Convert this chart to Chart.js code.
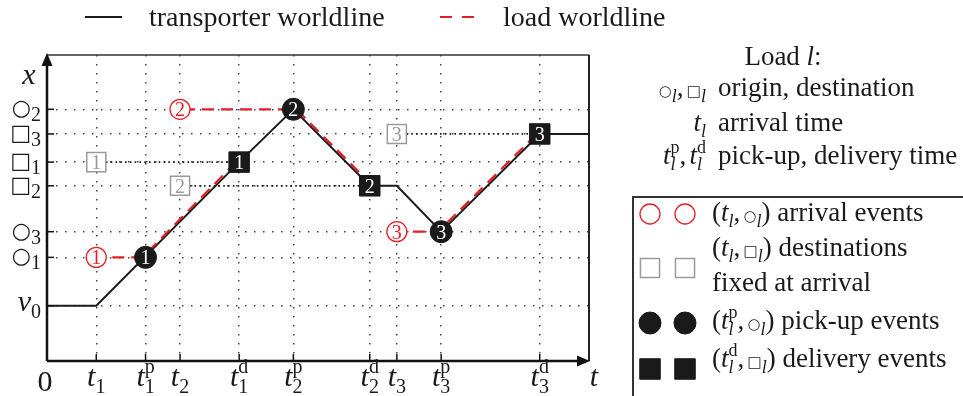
<!DOCTYPE html>
<html>
<head>
<meta charset="utf-8">
<script src="https://cdn.jsdelivr.net/npm/chart.js@4"></script>
<style>
  html, body { margin: 0; padding: 0; background: #fff; }
  #chart { display: block; }
</style>
</head>
<body>
<canvas id="chart" width="963" height="396"></canvas>
<script>
// axis ticks
const tickTimes = [1, 2, 2.7, 3.9, 5, 6.55, 7.1, 8, 10];
const timeLabels = ['$t_1$', '$t_1^p$', '$t_2$', '$t_1^d$', '$t_2^p$', '$t_2^d$', '$t_3$', '$t_3^p$', '$t_3^d$'];
const tickPlaces = [1.12, 2.1, 2.62, 3.55, 4.03, 4.6, 5.1];
const placeLabels = ['$v_0$', '$○_1$', '$○_3$', '$□_2$', '$□_1$', '$□_3$', '$○_2$'];
const timeAxisName = '$t$';
const placeAxisName = '$x$';
const originName = '0';

// transporter worldline
const transporterT = [0, 1, 3.9, 5, 6.55, 7.1, 8, 10, 11];
const transporterX = [1.12, 1.12, 4.03, 5.1, 3.55, 3.55, 2.62, 4.6, 4.6];

// loads
const loadIds = ['1', '2', '3'];
const arrivalT = [1, 2.7, 7.1];
const pickupT = [2, 5, 8];
const deliveryT = [3.9, 6.55, 10];
const originX = [2.1, 5.1, 2.62];
const destX = [4.03, 3.55, 4.6];

// texts
const legendLabels = ['transporter worldline', 'load worldline'];
const notationTitle = 'Load $l$:';
const notationSymbols = ['$○_l,□_l$', '$t_l$', '$t_l^p,t_l^d$'];
const notationMeanings = ['origin, destination', 'arrival time', 'pick-up, delivery time'];
const eventLabels = ['$(t_l,○_l)$ arrival events', '$(t_l,□_l)$ destinations', 'fixed at arrival',
  '$(t_l^p,○_l)$ pick-up events', '$(t_l^d,□_l)$ delivery events'];

const RED = '#e41e26';
const INK = '#1a1a1a';
const GREY = '#9a9a9a';
const SERIF = '"Liberation Serif", "Times New Roman", serif';
const SYMBOL = '"DejaVu Sans", sans-serif';

const axisSize = { base: 30, script: 20, sub: 7, sup: 13, sym: 22, symDy: 1 };
const textSize = { base: 27, script: 18, sub: 6, sup: 11, sym: 15, symDy: 0 };
const legendSize = { base: 28, script: 19, sub: 6, sup: 11, sym: 15, symDy: 0 };

// small tex-like text: $..$ is math, _ sub, ^ sup
function charFont(ch, math, script, sup, size) {
  if (ch === '○' || ch === '□') {
    const s = script ? size.sym * 0.7 : size.sym;
    return { font: `${s}px ${SYMBOL}`, dy: size.symDy };
  }
  const s = script ? size.script : size.base;
  const italic = math && /[a-z]/i.test(ch) && !sup;
  return { font: `${italic ? 'italic ' : ''}${s}px ${SERIF}`, dy: 0 };
}

function layoutRich(ctx, str, size) {
  const runs = [];
  let x = 0, math = false, i = 0;
  let prevScript = null;
  while (i < str.length) {
    const ch = str[i];
    if (ch === '$') { math = !math; i++; continue; }
    if (math && (ch === '_' || ch === '^')) {
      const level = ch === '_' ? -1 : 1;
      let body;
      if (str[i + 1] === '{') {
        const j = str.indexOf('}', i + 2);
        body = str.slice(i + 2, j);
        i = j + 1;
      } else {
        body = str[i + 1];
        i += 2;
      }
      const stacked = prevScript && prevScript.level !== level;
      const start = stacked ? prevScript.start : x;
      let cx = start;
      for (const c of body) {
        const f = charFont(c, true, true, level > 0, size);
        ctx.font = f.font;
        runs.push({ text: c, font: f.font, x: cx, dy: f.dy + (level < 0 ? size.sub : -size.sup) });
        cx += ctx.measureText(c).width;
      }
      x = Math.max(x, cx);
      prevScript = stacked ? null : { start, level };
      continue;
    }
    prevScript = null;
    const f = charFont(ch, math, false, false, size);
    ctx.font = f.font;
    runs.push({ text: ch, font: f.font, x, dy: f.dy });
    x += ctx.measureText(ch).width;
    if (math && ch === ',') x += size.base * 0.12;
    i++;
  }
  return { runs, width: x };
}

function drawRich(ctx, str, x, y, align, size, color) {
  const lay = layoutRich(ctx, str, size);
  const x0 = align === 'center' ? x - lay.width / 2 : align === 'right' ? x - lay.width : x;
  ctx.save();
  ctx.fillStyle = color;
  ctx.textAlign = 'left';
  ctx.textBaseline = 'alphabetic';
  lay.runs.forEach(r => {
    ctx.font = r.font;
    ctx.fillText(r.text, x0 + r.x, y + r.dy);
  });
  ctx.restore();
}

function line(ctx, x1, y1, x2, y2, width, color, dash) {
  ctx.save();
  ctx.strokeStyle = color;
  ctx.lineWidth = width;
  ctx.setLineDash(dash || []);
  ctx.beginPath();
  ctx.moveTo(x1, y1);
  ctx.lineTo(x2, y2);
  ctx.stroke();
  ctx.restore();
}

function drawMarker(ctx, ds, x, y) {
  ctx.save();
  ctx.fillStyle = ds.backgroundColor;
  ctx.strokeStyle = ds.borderColor;
  ctx.lineWidth = ds.borderWidth;
  Chart.helpers.drawPoint(ctx, { pointStyle: ds.pointStyle, radius: ds.pointRadius, borderWidth: ds.borderWidth, rotation: 0 }, x, y);
  ctx.restore();
}

const pts = (ts, xs) => ts.map((t, i) => ({ x: t, y: xs[i] }));

// datasets
const transporterSet = {
  label: legendLabels[0], data: pts(transporterT, transporterX), showLine: true,
  borderColor: INK, borderWidth: 2, pointRadius: 0, order: 5
};
const loadSets = loadIds.map((id, i) => ({
  label: i === 0 ? legendLabels[1] : '',
  data: pts([arrivalT[i], pickupT[i], deliveryT[i]], [originX[i], originX[i], destX[i]]),
  showLine: true, borderColor: RED, borderWidth: 2.2, borderDash: [12, 7], pointRadius: 0,
  shiftX: i === 1 ? 3 : -3, order: 3
}));
const destSets = loadIds.map((id, i) => ({
  label: '', data: pts([arrivalT[i], deliveryT[i]], [destX[i], destX[i]]),
  showLine: true, borderColor: INK, borderWidth: 1.8, borderDash: [1.6, 3.2], pointRadius: 0, order: 4
}));
const arrivalSet = {
  label: '', data: pts(arrivalT, originX), pointStyle: 'circle', pointRadius: 10,
  backgroundColor: '#fff', borderColor: RED, borderWidth: 1.3, numberColor: RED, order: 1
};
const fixedSet = {
  label: '', data: pts(arrivalT, destX), pointStyle: 'rect', pointRadius: 13.5,
  backgroundColor: '#fff', borderColor: GREY, borderWidth: 1.5, numberColor: GREY, order: 1
};
const pickupSet = {
  label: '', data: pts(pickupT, originX), pointStyle: 'circle', pointRadius: 11,
  backgroundColor: INK, borderColor: INK, borderWidth: 1, numberColor: '#fff', order: 1
};
const deliverySet = {
  label: '', data: pts(deliveryT, destX), pointStyle: 'rect', pointRadius: 14.5,
  backgroundColor: INK, borderColor: INK, borderWidth: 1, numberColor: '#fff', order: 1
};
const markerSets = [arrivalSet, fixedSet, pickupSet, deliverySet];

const diagramPlugin = {
  id: 'diagram',
  beforeDatasetDraw(chart, args) {
    const ds = chart.data.datasets[args.index];
    if (ds.shiftX) {
      chart.ctx.save();
      chart.ctx.translate(ds.shiftX, 0);
    }
  },
  afterDatasetDraw(chart, args) {
    if (chart.data.datasets[args.index].shiftX) chart.ctx.restore();
  },
  afterDatasetsDraw(chart) {
    const ctx = chart.ctx;
    chart.data.datasets.forEach((ds, i) => {
      if (!ds.numberColor) return;
      chart.getDatasetMeta(i).data.forEach((pt, j) => {
        ctx.save();
        ctx.font = `20px ${SERIF}`;
        ctx.fillStyle = ds.numberColor;
        ctx.textAlign = 'center';
        ctx.textBaseline = 'alphabetic';
        ctx.fillText(loadIds[j], pt.x, pt.y + 7);
        ctx.restore();
      });
    });
  },
  afterDraw(chart) {
    const ctx = chart.ctx;
    const { left, right, top, bottom } = chart.chartArea;
    const xs = chart.scales.x, ys = chart.scales.y;

    // frame and axes
    line(ctx, left, top, right, top, 1.5, '#333');
    line(ctx, right, top, right, bottom, 2, '#222');
    line(ctx, left, bottom, right - 8, bottom, 2.5, '#111');
    line(ctx, left, bottom, left, top + 8, 2.5, '#111');
    ctx.save();
    ctx.fillStyle = '#111';
    ctx.beginPath();
    ctx.moveTo(left, top - 2);
    ctx.lineTo(left - 5.5, top + 11);
    ctx.lineTo(left + 5.5, top + 11);
    ctx.closePath();
    ctx.fill();
    ctx.beginPath();
    ctx.moveTo(right + 1, bottom);
    ctx.lineTo(right - 12, bottom - 5.5);
    ctx.lineTo(right - 12, bottom + 5.5);
    ctx.closePath();
    ctx.fill();
    ctx.restore();

    // inner tick marks and labels
    tickTimes.forEach((t, i) => {
      const px = xs.getPixelForValue(t);
      line(ctx, px, bottom, px, bottom - 7, 1.5, '#111');
      drawRich(ctx, timeLabels[i], px, 386, 'center', axisSize, INK);
    });
    tickPlaces.forEach((v, i) => {
      const py = ys.getPixelForValue(v);
      line(ctx, left, py, left + 7, py, 1.5, '#111');
      drawRich(ctx, placeLabels[i], 41, py + 5, 'right', axisSize, INK);
    });
    drawRich(ctx, originName, left - 2, 391, 'center', axisSize, INK);
    drawRich(ctx, timeAxisName, right + 5, 386, 'center', axisSize, INK);
    drawRich(ctx, placeAxisName, 29, 84, 'center', axisSize, INK);

    // worldline legend
    line(ctx, 85, 17, 122, 17, 2, transporterSet.borderColor);
    drawRich(ctx, transporterSet.label, 149, 26, 'left', legendSize, INK);
    line(ctx, 440, 17, 477, 17, 2.2, loadSets[0].borderColor, [12, 10]);
    drawRich(ctx, loadSets[0].label, 503, 26, 'left', legendSize, INK);

    // notation block
    drawRich(ctx, notationTitle, 783, 65, 'center', textSize, INK);
    const notationY = [96, 131, 164];
    notationSymbols.forEach((s, i) => {
      drawRich(ctx, s, 706, notationY[i], 'right', textSize, INK);
      drawRich(ctx, notationMeanings[i], 718, notationY[i], 'left', textSize, INK);
    });

    // event legend box
    ctx.save();
    ctx.strokeStyle = '#333';
    ctx.lineWidth = 2;
    ctx.strokeRect(633, 197, 400, 260);
    ctx.restore();
    const markerY = [214, 268, 323, 369];
    markerSets.forEach((ds, i) => {
      drawMarker(ctx, ds, 650, markerY[i]);
      drawMarker(ctx, ds, 685, markerY[i]);
    });
    const eventY = [221, 256, 291, 329, 367];
    eventLabels.forEach((s, i) => drawRich(ctx, s, 712, eventY[i], 'left', textSize, INK));
  }
};

const gridOpts = { color: '#444', lineWidth: 1.5, drawTicks: false };

new Chart(document.getElementById('chart'), {
  type: 'scatter',
  data: { datasets: [transporterSet, ...loadSets, ...destSets, ...markerSets] },
  options: {
    responsive: false,
    animation: false,
    devicePixelRatio: 1,
    layout: { padding: { left: 47, right: 374, top: 55, bottom: 35 } },
    plugins: { legend: { display: false }, tooltip: { enabled: false } },
    scales: {
      x: {
        type: 'linear', min: 0, max: 11,
        afterBuildTicks: s => { s.ticks = tickTimes.map(v => ({ value: v })); },
        ticks: { display: false },
        grid: gridOpts,
        border: { display: false, dash: [1.5, 7.5] }
      },
      y: {
        type: 'linear', min: 0, max: 6.2,
        afterBuildTicks: s => { s.ticks = tickPlaces.map(v => ({ value: v })); },
        ticks: { display: false },
        grid: gridOpts,
        border: { display: false, dash: [1.5, 7.5] }
      }
    }
  },
  plugins: [diagramPlugin]
});
</script>
</body>
</html>
